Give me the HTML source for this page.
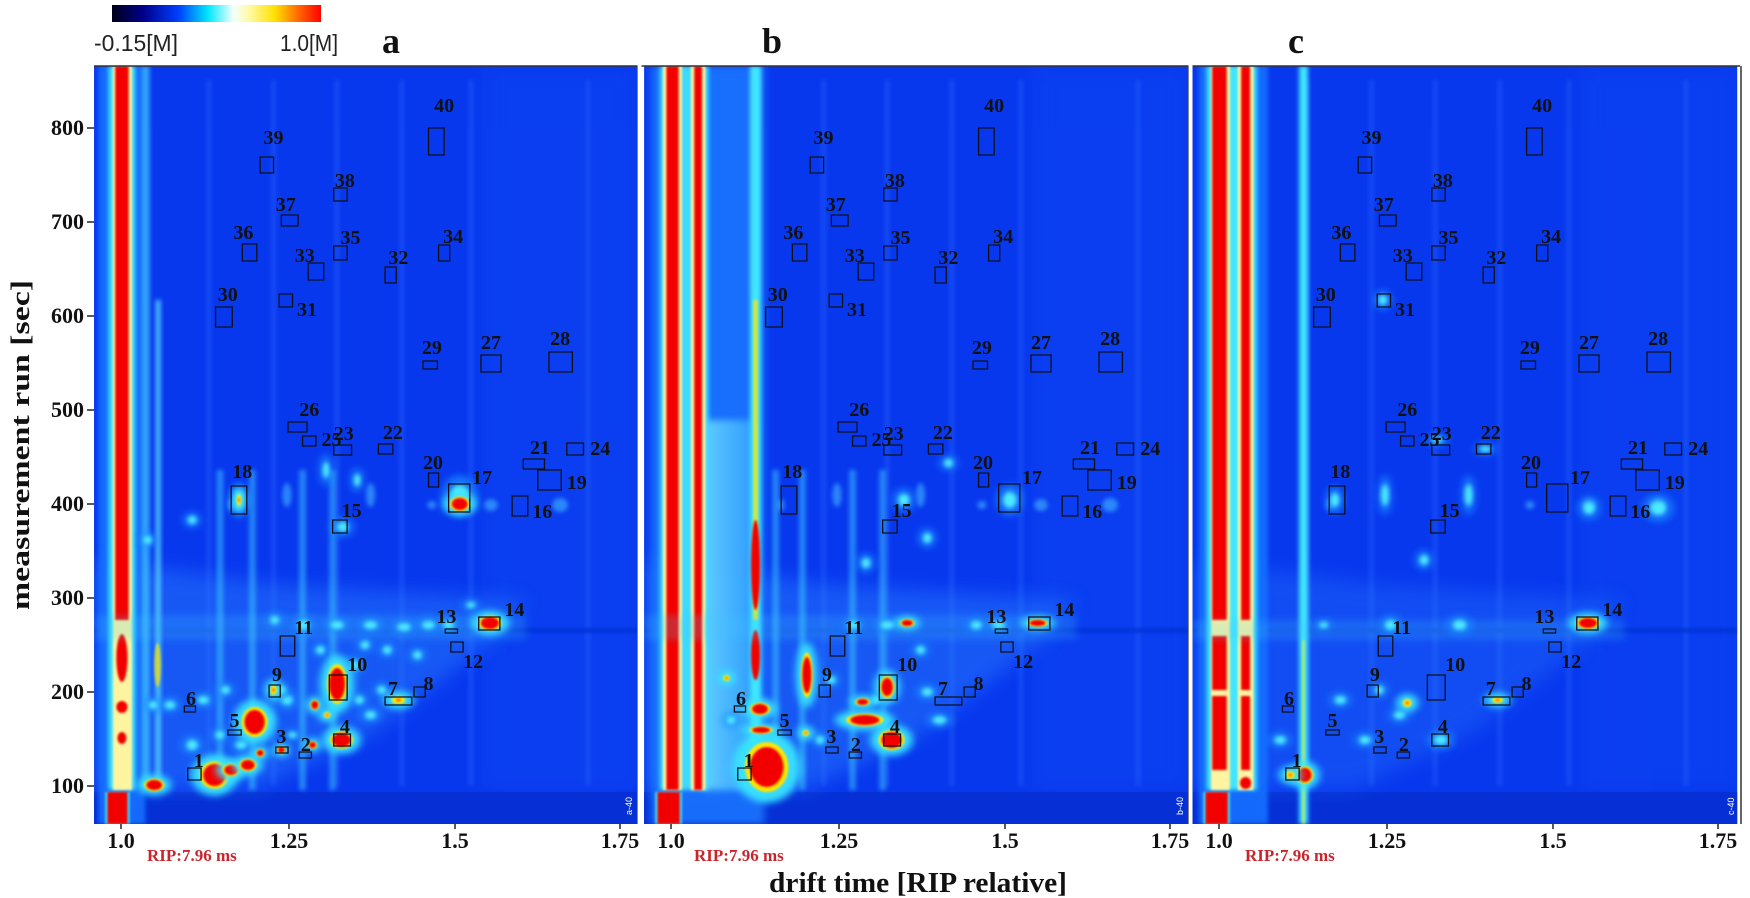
<!DOCTYPE html>
<html><head><meta charset="utf-8"><style>
html,body{margin:0;padding:0;background:#fff;width:1750px;height:898px;overflow:hidden}
svg{display:block}
</style></head><body>
<svg id="s" width="1750" height="898" viewBox="0 0 1750 898" xmlns="http://www.w3.org/2000/svg"></svg>
<script>
const PO=[0,493.3,984.8], AO=[0,550,1098];
function X(p){return 1.115*p+2.6;}
let o='';
o+=`<defs>
<filter id="b1" x="-50%" y="-50%" width="200%" height="200%"><feGaussianBlur stdDeviation="1"/></filter>
<filter id="b2" x="-50%" y="-50%" width="200%" height="200%"><feGaussianBlur stdDeviation="2"/></filter>
<filter id="b3" x="-50%" y="-50%" width="200%" height="200%"><feGaussianBlur stdDeviation="3.5"/></filter>
<filter id="b8" x="-50%" y="-50%" width="200%" height="200%"><feGaussianBlur stdDeviation="9"/></filter>
<linearGradient id="cb" x1="0" x2="1" y1="0" y2="0">
<stop offset="0" stop-color="#000018"/><stop offset=".15" stop-color="#00008c"/><stop offset=".32" stop-color="#0040ff"/>
<stop offset=".46" stop-color="#00e8ff"/><stop offset=".58" stop-color="#f4ffff"/><stop offset=".66" stop-color="#fffaa0"/>
<stop offset=".78" stop-color="#ffe000"/><stop offset=".9" stop-color="#ff6000"/><stop offset="1" stop-color="#ff0000"/></linearGradient>
<linearGradient id="bg2" x1="0" x2="1" y1="0" y2="0"><stop offset="0" stop-color="#80f4ff"/><stop offset="1" stop-color="#3ab0ff"/></linearGradient>
<clipPath id="cp"><rect x="82" y="66" width="489" height="758"/></clipPath>
</defs>`;
function E(x,y,rx,ry,c,op,f){return `<ellipse cx="${x}" cy="${y}" rx="${rx}" ry="${ry}" fill="${c}" opacity="${op}" ${f?`filter="url(#${f})"`:''}/>`;}
function R(x1,y1,x2,y2,c,op,f){return `<rect x="${x1}" y="${y1}" width="${x2-x1}" height="${y2-y1}" fill="${c}" opacity="${op}" ${f?`filter="url(#${f})"`:''}/>`;}
function spot(s){let [x,y,rx,ry,t]=s,r='';
 if(t=='r'){r+=E(x,y,rx*1.9+2,ry*1.7+2,'#38e4ff',.95,'b3');r+=E(x,y,rx*1.3,ry*1.25,'#ffe400',1,'b1');r+=E(x,y,rx,ry,'#f20000',1,'b1');}
 else if(t=='y'){r+=E(x,y,rx*2+2,ry*1.8+2,'#38e4ff',.95,'b3');r+=E(x,y,rx,ry,'#ffe800',1,'b1');r+=E(x,y,rx*.4,ry*.4,'#ff5000',.8,'b1');}
 else if(t=='c'){r+=E(x,y,rx*2,ry*2,'#1a8cff',.7,'b3');r+=E(x,y,rx,ry,'#50f0ff',.95,'b2');}
 else {r+=E(x,y,rx,ry,'#3a86ff',.75,'b3');}
 return r;}
function base(){let r='';
 r+=R(82,66,571,824,'#0838ee',1);
 r+=R(430,66,571,790,'#1048f4',.4,'b8');
 [185,243,300,358,420,525].forEach(x=>{r+=R(x-2,80,x+2,786,'#2d6cff',.4,'b2');});
 r+=R(82,792,571,824,'#0630d6',1);
 r+=R(82,628,571,633,'#0630d0',.7,'b1');
 [[205,505,3,6],[255,495,4,12],[330,495,4,12],[438,505,6,6],[500,505,7,7],[385,505,4,4]].forEach(s=>r+=E(s[0],s[1],s[2],s[3],'#3aa8ff',.7,'b2'));
 return r;}
const boxes=[[1,166,768,178,780,176,761],[2,266,752,277,758,272,745],[3,245,747,256,753,250,737],[4,297,734,312,746,307,727],[5,202,730,214,735,208,721],[6,163,706,173,712,169,699],[7,343,697,367,705,350,689],[8,369,687,379,697,382,684],[9,239,685,249,697,246,675],[10,293,675,309,700,318,665],[11,249,636,262,656,270,628],[12,402,642,413,652,422,662],[13,397,629,408,633,398,617],[14,427,617,446,630,459,610],
[15,296,520,309,533,313,511],[16,457,496,471,516,484,512],[17,400,484,419,512,430,478],[18,205,486,219,514,215,472],[19,480,470,501,490,515,483],[20,382,473,391,487,386,463],[21,467,459,486,469,482,448],[22,337,444,350,454,350,433],[23,297,445,313,455,306,434],[24,506,443,521,455,536,449],[25,269,436,281,446,295,440],[26,256,422,273,432,275,410],[27,429,355,447,372,438,343],[28,490,352,511,372,500,339],[29,377,361,390,369,385,348],[30,191,307,206,327,202,295],[31,248,294,260,307,273,310],[32,343,267,353,283,355,258],[33,274,263,288,280,271,256],[34,391,245,401,261,404,237],[35,297,246,309,260,312,238],[36,215,244,228,261,216,233],[37,250,215,265,226,254,205],[38,297,188,309,201,307,181],[39,231,157,243,173,243,138],[40,382,128,396,155,396,106]];
const TRI='82,560 250,585 470,600 440,640 330,735 230,788 82,790';
function panelA(){let r='';
 r+=`<polygon points="${TRI}" fill="#2a80ff" opacity=".45" filter="url(#b8)"/>`;
 r+=R(86,66,128,824,'#1670ff',.9,'b2');
 r+=R(95,66,119,790,'#40e6ff',1,'b2');
 r+=R(99,66,116,790,'#fff4a0',1,'b1');
 r+=R(101,66,113,620,'#f20000',1,'b1');
 r+=E(107,658,5,24,'#f20000',1,'b1');r+=E(107,707,5,6,'#f20000',1,'b1');r+=E(107,738,4,6,'#f20000',1,'b1');
 r+=R(125,66,132,786,'#45c8ff',.7,'b2');r+=R(137,300,142,786,'#60e8ff',.7,'b2');r+=E(139,665,3,22,'#ffe800',.7,'b1');
 [195,224,269,296].forEach(x=>{r+=R(x-3,470,x+3,790,'#40d0ff',.5,'b2');});
 r+=R(82,615,470,640,'#40c8ff',.2,'b3');
 r+=R(92,792,114,824,'#38e0ff',1,'b1');r+=R(94,792,112,824,'#f20000',1,'b1');
 [[150,705,5,4,'c'],[135,705,4,4,'c'],[170,745,5,5,'c'],[195,735,4,4,'c'],[214,745,5,4,'c'],[260,735,4,3,'c'],[236,720,4,4,'c'],[255,700,5,5,'c'],[320,700,4,4,'c'],[330,715,5,4,'c'],[340,690,4,4,'c'],[316,665,4,5,'c'],[325,645,4,4,'c'],[345,650,4,4,'c'],[372,655,4,4,'c'],[382,625,6,4,'c'],[400,625,5,4,'c'],[360,627,6,4,'c'],[330,625,6,4,'c'],[300,625,6,4,'c'],[270,625,5,5,'c'],[244,620,4,4,'c'],[420,605,4,3,'c'],[305,527,5,5,'c'],[318,480,3,6,'c'],[290,470,3,8,'c'],[170,520,4,4,'c'],[130,540,4,4,'c'],[180,700,5,4,'c'],[200,690,4,4,'c'],[212,500,4,9,'c'],[250,690,4,4,'c'],[285,650,4,4,'c'],[410,495,8,10,'c'],
  [190,775,10,11,'r'],[205,770,6,5,'r'],[136,785,7,5,'r'],[226,722,9,12,'r'],[220,765,6,5,'r'],[231,753,3,3,'r'],[300,684,7,16,'r'],[304,740,8,7,'r'],[250,750,3,3,'r'],[278,745,3,3,'r'],[280,705,3,4,'r'],[437,623,8,6,'r'],[410,504,7,6,'r'],
  [243,690,3,5,'y'],[355,700,6,4,'y'],[291,715,3,3,'y'],[212,500,2,6,'y']].forEach(s=>r+=spot(s));
 return r;}
function panelB(){let r='';
 r+=`<polygon points="${TRI}" fill="#2a80ff" opacity=".45" filter="url(#b8)"/>`;
 r+=R(88,66,190,824,'#1a78ff',.85,'b3');
 r+=R(135,420,180,790,'url(#bg2)',.7,'b3');
 r+=R(96,66,140,790,'#40e6ff',.9,'b2');
 r+=R(99,66,116,790,'#fff4a0',1,'b1');r+=R(124,66,137,790,'#fff4a0',1,'b1');
 r+=R(102,66,113,790,'#f20000',1,'b1');r+=R(127,66,134,790,'#f20000',1,'b1');
 r+=R(177,66,187,790,'#40e6ff',1,'b2');r+=R(180,300,184,620,'#ffe800',.8,'b1');
 r+=E(182,565,4,45,'#f20000',1,'b1');r+=E(182,655,4,25,'#f20000',1,'b1');
 [200,224,269,296].forEach(x=>{r+=R(x-3,470,x+3,790,'#40d0ff',.5,'b2');});
 r+=R(82,615,470,640,'#40c8ff',.2,'b3');
 r+=R(92,792,116,824,'#38e0ff',1,'b1');r+=R(94,792,114,824,'#f20000',1,'b1');
 [[347,720,6,4,'c'],[336,692,5,4,'c'],[281,563,4,5,'c'],[336,538,4,5,'c'],[160,720,4,4,'c'],[250,680,4,4,'c'],[300,625,6,4,'c'],[270,625,5,4,'c'],[380,625,5,4,'c'],[400,625,6,4,'c'],[330,650,4,4,'c'],[290,700,4,4,'c'],[240,740,4,4,'c'],[410,500,6,8,'c'],[315,500,5,6,'c'],[355,463,4,4,'c'],
  [192,767,15,20,'r'],[186,709,7,5,'r'],[187,730,8,3,'r'],[228,675,4,18,'r'],[300,687,5,9,'r'],[278,702,5,3,'r'],[280,720,13,5,'r'],[304,740,9,8,'r'],[435,623,7,3,'r'],[318,623,5,3,'r'],
  [156,678,3,3,'y'],[227,733,3,3,'y']].forEach(s=>r+=spot(s));
 return r;}
function panelC(){let r='';
 r+=`<polygon points="${TRI}" fill="#2a80ff" opacity=".3" filter="url(#b8)"/>`;
 r+=R(88,66,150,824,'#1670ff',.9,'b2');
 r+=R(95,66,140,790,'#40e6ff',1,'b2');
 r+=R(99,66,116,790,'#fff4a0',1,'b1');r+=R(123,66,137,790,'#fff4a0',1,'b1');
 r+=R(100,66,113,620,'#f20000',1,'b1');r+=R(100,636,113,690,'#f20000',1,'b1');r+=R(100,696,113,770,'#f20000',1,'b1');
 r+=R(126,66,134,620,'#f20000',1,'b1');r+=R(126,636,134,690,'#f20000',1,'b1');r+=R(126,696,134,770,'#f20000',1,'b1');r+=E(130,783,5,6,'#f20000',1,'b1');
 r+=R(178,66,186,824,'#40e6ff',1,'b2');r+=R(181,640,183,824,'#ffe800',.7,'b1');
 r+=R(92,792,116,824,'#38e0ff',1,'b1');r+=R(94,792,114,824,'#f20000',1,'b1');
 r+=R(82,620,470,640,'#40c8ff',.2,'b3');
 [[305,740,6,5,'c'],[215,700,5,4,'c'],[161,740,5,4,'c'],[237,740,5,4,'c'],[260,625,5,5,'c'],[322,625,6,5,'c'],[268,715,5,4,'c'],[290,560,4,5,'c'],[210,500,4,7,'c'],[253,300,4,5,'c'],[500,508,7,7,'c'],[438,508,5,6,'c'],[255,495,3,10,'c'],[330,495,3,10,'c'],[302,440,5,3,'c'],[345,449,5,3,'c'],[250,690,4,4,'c'],[200,625,4,3,'c'],
  [183,775,6,7,'r'],[437,623,8,5,'r'],[275,703,4,4,'y'],[356,700,5,3,'y'],[170,775,4,4,'y']].forEach(s=>r+=spot(s));
 return r;}
const P=[panelA,panelB,panelC];
for(let i=0;i<3;i++){
 o+=`<g transform="matrix(1.115 0 0 1 ${2.6+1.115*PO[i]} 0)"><g clip-path="url(#cp)">`+base()+P[i]()+`</g>`;
 boxes.forEach(b=>{o+=`<rect x="${b[1]}" y="${b[2]}" width="${b[3]-b[1]}" height="${b[4]-b[2]}" fill="none" stroke="#101018" stroke-width="1.3" vector-effect="non-scaling-stroke"/>`;});
 o+=`</g>`;
 boxes.forEach(b=>{o+=`<text x="${(X(b[5])+AO[i]).toFixed(1)}" y="${b[6]}" font-family="Liberation Serif,serif" font-weight="bold" font-size="20" text-anchor="middle" dominant-baseline="central" fill="#111">${b[0]}</text>`;});
 const x0=[94,641,1190][i], x1=[638,1189,1740][i];
 o+=`<line x1="${x0}" y1="66" x2="${x1}" y2="66" stroke="#333" stroke-width="1.5"/>`;
 o+=`<text x="${x1-6}" y="815" font-family="Liberation Sans,sans-serif" font-size="9" fill="#fff" transform="rotate(-90 ${x1-6} 815)">${'abc'[i]}-40</text>`;
 [1.0,1.25,1.5,1.75].forEach((v,k)=>{const tx=[121,289,455,620][k]+AO[i];
  o+=`<line x1="${tx}" y1="824" x2="${tx}" y2="829" stroke="#222" stroke-width="1.5"/>`;
  o+=`<text x="${tx}" y="848" font-family="Liberation Serif,serif" font-weight="bold" font-size="22" text-anchor="middle" fill="#111">${['1.0','1.25','1.5','1.75'][k]}</text>`;});
 o+=`<text x="${[147,694,1245][i]}" y="861" font-family="Liberation Serif,serif" font-weight="bold" font-size="17" fill="#c8262c">RIP:7.96 ms</text>`;
}
[639.5,1190.5].forEach(x=>{o+=`<rect x="${x-2}" y="64" width="4" height="762" fill="#fff"/><line x1="${x-2}" y1="66" x2="${x-2}" y2="824" stroke="#888" stroke-width="1"/>`;});
o+=`<line x1="1741" y1="66" x2="1741" y2="824" stroke="#333" stroke-width="1.5"/>`;
for(let v=100;v<=800;v+=100){const y=786-(v-100)*0.94;
 o+=`<line x1="87" y1="${y}" x2="94" y2="${y}" stroke="#222" stroke-width="1.5"/>`;
 o+=`<text x="84" y="${y+7}" font-family="Liberation Serif,serif" font-weight="bold" font-size="22" text-anchor="end" fill="#111">${v}</text>`;}
o+=`<text x="0" y="0" transform="translate(29 445) rotate(-90)" font-family="Liberation Serif,serif" font-weight="bold" font-size="26" text-anchor="middle" textLength="330" lengthAdjust="spacingAndGlyphs" fill="#111">measurement run [sec]</text>`;
o+=`<text x="918" y="892" font-family="Liberation Serif,serif" font-weight="bold" font-size="29" text-anchor="middle" textLength="298" lengthAdjust="spacingAndGlyphs" fill="#111">drift time [RIP relative]</text>`;
o+=`<rect x="112" y="5" width="209" height="17" fill="url(#cb)"/>`;
o+=`<text x="94" y="51" font-family="Liberation Sans,sans-serif" font-size="23" fill="#222" textLength="84" lengthAdjust="spacingAndGlyphs">-0.15[M]</text>`;
o+=`<text x="280" y="51" font-family="Liberation Sans,sans-serif" font-size="23" fill="#222" textLength="58" lengthAdjust="spacingAndGlyphs">1.0[M]</text>`;
[['a',391],['b',772],['c',1296]].forEach(t=>{o+=`<text x="${t[1]}" y="53" font-family="Liberation Serif,serif" font-weight="bold" font-size="36" text-anchor="middle" fill="#111">${t[0]}</text>`;});
document.getElementById('s').innerHTML=o;
</script>
</body></html>
